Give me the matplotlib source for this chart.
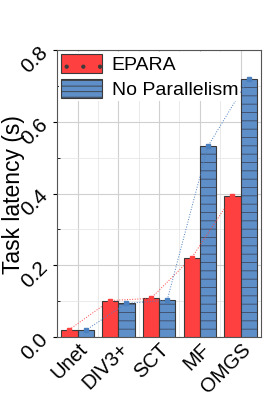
import matplotlib
matplotlib.use("Agg")
import matplotlib.pyplot as plt
import matplotlib.patches as mpatches
import numpy as np
from matplotlib.ticker import MultipleLocator

categories = ["Unet", "DIV3+", "SCT", "MF", "OMGS"]
epara = [0.021, 0.102, 0.108, 0.221, 0.392]
no_par = [0.019, 0.094, 0.103, 0.532, 0.720]

plt.rcParams['font.family'] = ['Liberation Sans', 'DejaVu Sans']
plt.rcParams['hatch.linewidth'] = 0.6

fig = plt.figure(figsize=(2.8, 3.98), dpi=100)
ax = fig.add_axes([0.204, 0.153, 0.728, 0.721])

x = np.arange(len(categories))
w = 0.4
red = "#FF4040"
blue = "#5E8FC8"
edge = "#3a3a3a"

ax.bar(x - w/2, epara, w, color=red, edgecolor=edge, linewidth=0.8, zorder=3, label="EPARA")
ax.bar(x + w/2, no_par, w, color=blue, edgecolor=edge, linewidth=0.8, zorder=3, label="No Parallelism")
# hatch overlay for blue bars
ax.bar(x + w/2, no_par, w, fill=False, hatch='--', edgecolor=(0.2, 0.2, 0.25, 0.75), linewidth=0, zorder=4)

ax.plot(x - w/2, epara, ':', color=red, lw=0.7, marker='s', ms=2.5, zorder=5)
ax.plot(x + w/2, no_par, ':', color="#4a7fc0", lw=0.7, marker='s', ms=2.5, zorder=5)

ax.set_xlim(-0.5, 4.5)
ax.set_ylim(0, 0.8)
ax.yaxis.set_major_locator(MultipleLocator(0.2))
ax.yaxis.set_minor_locator(MultipleLocator(0.1))
ax.xaxis.set_minor_locator(MultipleLocator(0.5))
ax.set_xticks(x)
ax.set_xticklabels(categories, rotation=45, ha='right', rotation_mode='anchor', fontsize=14.5)
ax.tick_params(axis='x', which='both', length=0, pad=2)
ax.tick_params(axis='y', which='major', length=3, direction='out', pad=1)
ax.tick_params(axis='y', which='minor', length=2, direction='in')
ax.set_yticks([0, 0.2, 0.4, 0.6, 0.8])
ax.set_yticklabels(["0.0", "0.2", "0.4", "0.6", "0.8"], rotation=45, fontsize=15)

ax.grid(True, which='major', axis='both', color='#d0d0d0', lw=0.8, zorder=0)
ax.grid(True, which='minor', axis='both', color='#e6e6e6', lw=0.6, zorder=0)
ax.set_axisbelow(True)
for s in ax.spines.values():
    s.set_color('#555555')
    s.set_linewidth(0.8)

ax.set_ylabel("Task latency (s)", fontsize=16.5)
ax.yaxis.set_label_coords(-0.157, 0.495)

h1 = mpatches.Patch(facecolor=red, edgecolor=edge, linewidth=0.8, hatch='.', label="EPARA")
h2 = mpatches.Patch(facecolor=blue, edgecolor=edge, linewidth=0.8, hatch='---', label="No Parallelism")
leg = ax.legend(handles=[h1, h2], loc='upper left', fontsize=14, handlelength=2.1, handleheight=1.1,
                borderaxespad=0.1, borderpad=0.1, labelspacing=0.25, handletextpad=0.5,
                frameon=True, fancybox=False)
leg.get_frame().set_edgecolor('none')
leg.get_frame().set_facecolor('white')
leg.get_frame().set_alpha(1)

fig.savefig("out.png", dpi=100)
